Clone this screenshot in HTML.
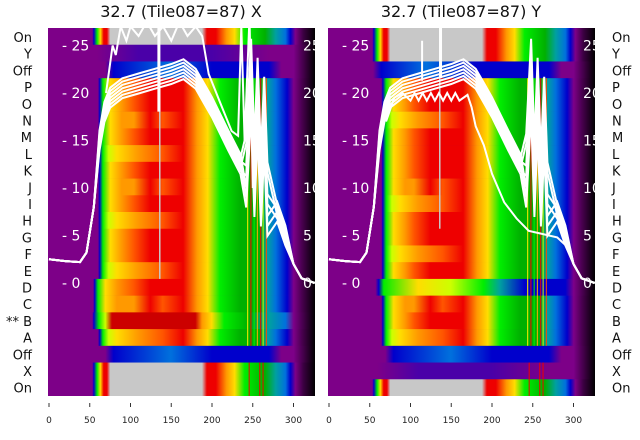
<!DOCTYPE html>
<html><head><meta charset="utf-8"><style>
html,body{margin:0;padding:0;background:#fff;width:640px;height:440px;overflow:hidden}
svg{display:block;font-family:"DejaVu Sans","Liberation Sans",sans-serif}
</style></head><body>
<svg id="s" width="640" height="440" xmlns="http://www.w3.org/2000/svg"></svg>
<script>
const NS="http://www.w3.org/2000/svg";
const s=document.getElementById('s');
let defs=document.createElementNS(NS,'defs');s.appendChild(defs);
let gid=0;
function el(t,a,p){const e=document.createElementNS(NS,t);for(const k in a)e.setAttribute(k,a[k]);(p||s).appendChild(e);return e;}
const PU='#7d0088',BL='#0000cc',LB='#0070dd',TE='#00a0a0',GR='#00b000',BG='#00ee00',YG='#ccff00',YE='#ffdd00',OR='#ff9900',RO='#ff5500',RD='#ee0000',DR='#cc0000',GY='#c8c8c8',VI='#4a00a8';
const U=326;
function grad(stops){const id='g'+(gid++);const g=el('linearGradient',{id:id,x1:0,x2:1,y1:0,y2:0},defs);
 for(const [u,c] of stops)el('stop',{offset:(u/U).toFixed(4),'stop-color':c},g);return id;}
const tail=[[292,BL],[300,PU],[310,'#4a0050'],[326,'#000']];
function main(hot,start){start=start||56;
 if(hot==2) return [[0,PU],[start-1,PU],[start+1,BL],[start+5,BG],[start+12,YG],[start+22,YE],[110,OR],[140,RO],[165,RD],[182,OR],[195,YE],[210,BG],[235,GR],[258,GR],[268,TE],[278,LB]].concat(tail);
 return [[0,PU],[start-1,PU],[start+1,BL],[start+5,BG],[start+14,YE],[start+28,OR],[105,hot?RO:OR],[125,RD],[140,hot?RD:RO],[165,RD],[182,OR],[195,YE],[210,BG],[235,GR],[258,GR],[268,TE],[278,LB]].concat(tail);}
const onRow=[[0,PU],[54,PU],[56,BL],[60,BG],[64,YE],[68,RD],[72,RD],[76,GY],[188,GY],[194,RD],[205,RD],[218,OR],[228,YE],[240,BG],[265,GR],[278,TE],[290,LB]].concat([[296,BL],[302,PU],[312,'#3a0040'],[326,'#000']]);
const purpleRow=[[0,PU],[60,PU],[110,VI],[200,VI],[270,PU],[300,PU],[326,'#000']];
const offRowL=[[0,PU],[70,PU],[80,BL],[150,LB],[200,BL],[270,BL],[285,PU],[300,PU],[326,'#000']];
const dRow=[[0,PU],[58,PU],[62,BL],[68,BG],[110,YE],[150,YG],[190,BG],[210,TE],[240,BL],[290,BL],[300,PU],[326,'#000']];
function panel(x0,side){
 const W=267,T=28,B=396,rh=(B-T)/22;
 const cp='c'+side;const c=el('clipPath',{id:cp},defs);el('rect',{x:x0,y:T,width:W,height:B-T},c);
 const g=el('g',{'clip-path':'url(#'+cp+')'});
 el('rect',{x:x0,y:T,width:W,height:B-T,fill:'url(#'+grad(purpleRow)+')'},g);
 let rows=[];
 if(side=='L'){
  rows=[[0,1,onRow],[1,1,purpleRow],[2,1,offRowL]];
  const hots=[1,1,0,1,2,1,0,1,2,1,1,2,1,0,2];
  for(let i=0;i<15;i++)rows.push([3+i,1,main(hots[i],i>11?56:62)]);
  rows[17]=[17,1,[[0,PU],[54,PU],[56,BL],[62,BG],[70,YG],[78,DR],[180,DR],[188,OR],[200,YE],[215,BG],[245,GR],[270,TE],[290,LB],[300,PU],[326,'#000']]];
  rows.push([18,1,main(2,62)]);
  rows.push([19,1,offRowL]);
  rows.push([20,2,onRow]);
 } else {
  rows=[[0,2,onRow],[2,1,[[0,PU],[55,PU],[65,BL],[120,LB],[180,BL],[270,BL],[285,PU],[300,PU],[326,'#000']]]];
  const hots=[1,1,2,1,1,1,0,2,1,1,2,1];
  for(let i=0;i<12;i++)rows.push([3+i,1,main(hots[i],66)]);
  rows.push([15,1,dRow]);
  for(let i=16;i<19;i++)rows.push([i,1,main(i==18?2:i%2,66)]);
  rows.push([19,1,offRowL]);
  rows.push([20,1,purpleRow]);
  rows.push([21,1,onRow]);
 }
 for(const [r,n,st] of rows)el('rect',{x:x0,y:T+r*rh,width:W,height:n*rh+0.3,fill:'url(#'+grad(st)+')'},g);
 const X=u=>x0+1+u*0.815;
 const sc=['#ffee00','#ee0000','#00ee00','#ffaa00','#ee0000','#ccff00','#ff4400'];
 [243,247,251,255,259,262,266].forEach((u,i)=>{el('rect',{x:X(u),y:T+3*rh,width:1.2,height:16*rh,fill:sc[i],opacity:0.85},g);});
 [245,258,262].forEach(u=>el('rect',{x:X(u),y:T+20*rh,width:1,height:2*rh,fill:'#ee0000'},g));
 el('rect',{x:X(135),y:T+3*rh,width:1.5,height:(side=='L'?12:9)*rh,fill:GY},g);
 const Y=v=>283-v*9.5;
 [25,20,15,10,5,0].forEach(v=>{
  el('text',{x:x0+14,y:Y(v)+5,fill:'#fff','font-size':14},g).textContent='- '+v;
  el('text',{x:x0+W-12,y:Y(v)+5,fill:'#fff','font-size':14},g).textContent=v;
 });
 const base=[[0,2.5],[20,2.3],[38,2.2],[46,3.2],[55,8],[62,15],[68,18],[75,19.5],[90,20.5],[110,21],[130,21.5],[150,22],[165,22.5],[180,21.5],[190,20],[200,18.5],[220,15],[235,12.5],[242,12],[248,22],[252,11],[256,20],[260,10],[264,18],[268,9],[280,7.5],[290,5],[300,2],[310,0.5],[326,0]];
 for(let k=0;k<7;k++){
  let d='';const o=(k-3)*0.35;
  base.forEach(([u,v],i)=>{let vv=v+(u>60&&u<300?o:0)+((u>240&&u<270)?(k%3-1)*3:0);d+=(i?'L':'M')+X(u).toFixed(1)+' '+Y(vv).toFixed(1);});
  el('path',{d:d,fill:'none',stroke:'#fff','stroke-width':2},g);
 }
 if(side=='L'){
  let d='M'+X(70)+' '+Y(20);const pts=[[78,25],[82,24],[88,27],[95,25.5],[100,27],[110,26],[120,27.5],[130,26],[140,27],[150,25.5],[160,27.5],[170,26],[180,27],[188,26],[196,22],[210,19],[224,16],[232,15.5],[236,27],[240,15],[246,28],[250,10]];
  pts.forEach(([u,v])=>d+='L'+X(u).toFixed(1)+' '+Y(v).toFixed(1));
  el('path',{d:d,fill:'none',stroke:'#fff','stroke-width':2},g);
  el('rect',{x:X(133),y:T,width:3,height:5*rh,fill:'#fff'},g);
 } else {
  let d='M'+X(70)+' '+Y(17);const pts=[[80,19.5],[90,20],[100,19.2],[105,20],[110,19.2],[115,20],[120,19.2],[125,20],[130,19.2],[135,20],[140,19.2],[145,20],[150,19.2],[155,20],[160,19.2],[170,19.8],[175,18.5],[180,16.5],[190,14.5],[200,11.5],[215,8.5],[230,6.8],[245,5.5],[260,5.2],[280,4.8],[290,4]];
  pts.forEach(([u,v])=>d+='L'+X(u).toFixed(1)+' '+Y(v).toFixed(1));
  el('path',{d:d,fill:'none',stroke:'#fff','stroke-width':2},g);
  el('rect',{x:X(135),y:T,width:3,height:3*rh,fill:'#fff'},g);
  el('rect',{x:X(113),y:Y(25.5),width:2,height:40,fill:'#fff'},g);
 }
 [0,50,100,150,200,250,300].forEach(v=>{
  el('line',{x1:X(v),x2:X(v),y1:403,y2:407,stroke:'#333','stroke-width':1});
  el('text',{x:X(v),y:423,'text-anchor':'middle','font-size':9,fill:'#222'}).textContent=v;
 });
}
panel(48,'L');panel(328,'R');
el('text',{x:181,y:17,'text-anchor':'middle','font-size':16,fill:'#111'}).textContent='32.7 (Tile087=87) X';
el('text',{x:461,y:17,'text-anchor':'middle','font-size':16,fill:'#111'}).textContent='32.7 (Tile087=87) Y';
const labs=['On','Y','Off','P','O','N','M','L','K','J','I','H','G','F','E','D','C','B','A','Off','X','On'];
labs.forEach((l,i)=>{const y=37+i*16.7+5;
 el('text',{x:32,y:y,'text-anchor':'end','font-size':13,fill:'#111'}).textContent=(l=='B'&&i==17?'** B':l);
 el('text',{x:612,y:y,'font-size':13,fill:'#111'}).textContent=l;});
</script>
</body></html>
